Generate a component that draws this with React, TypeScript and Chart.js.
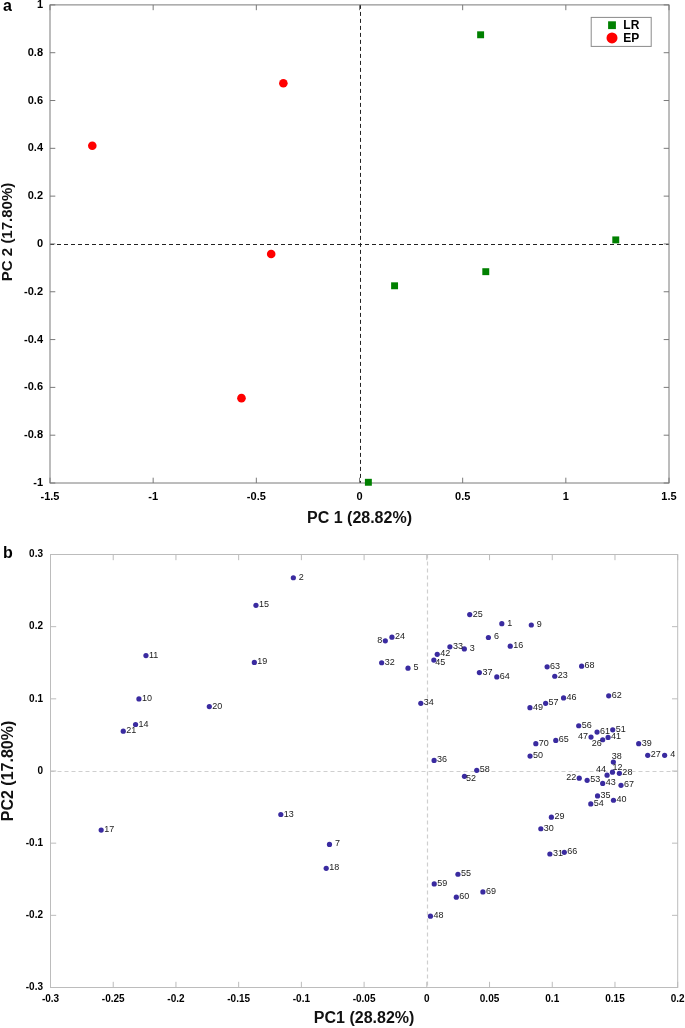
import React, { useEffect, useRef } from "react";
import { Chart, registerables } from "chart.js";

Chart.register(...registerables);

const FONT = "'Liberation Sans', Arial, Helvetica, sans-serif";

// ---------------- Panel a data ----------------
const groupNames = ["LR", "EP"];
const lrPC1 = [0.587, 1.242, 0.612, 0.17, 0.043];
const lrPC2 = [0.875, 0.017, -0.116, -0.175, -0.997];
const epPC1 = [-1.295, -0.369, -0.428, -0.572];
const epPC2 = [0.411, 0.672, -0.042, -0.645];
const xTicksA = [-1.5, -1, -0.5, 0, 0.5, 1, 1.5];
const yTicksA = [-1, -0.8, -0.6, -0.4, -0.2, 0, 0.2, 0.4, 0.6, 0.8, 1];

// ---------------- Panel b data ----------------
const sampleIds = [
  "1", "2", "3", "4", "5", "6", "7", "8", "9", "10",
  "11", "12", "13", "14", "15", "16", "17", "18", "19", "20",
  "21", "22", "23", "24", "25", "26", "27", "28", "29", "30",
  "31", "32", "33", "34", "35", "36", "37", "38", "39", "40",
  "41", "42", "43", "44", "45", "46", "47", "48", "49", "50",
  "51", "52", "53", "54", "55", "56", "57", "58", "59", "60",
  "61", "62", "63", "64", "65", "66", "67", "68", "69", "70",
];
const pc1 = [
  0.0598, -0.1064, 0.0299, 0.1896, -0.015, 0.0491, -0.0776, -0.0331, 0.0833, -0.2295,
  -0.2239, 0.148, -0.1164, -0.2322, -0.1362, 0.0665, -0.2596, -0.0802, -0.1375, -0.1734,
  -0.242, 0.1215, 0.102, -0.0278, 0.0342, 0.1402, 0.1761, 0.1535, 0.0993, 0.0909,
  0.0981, -0.036, 0.0184, -0.0048, 0.1361, 0.0058, 0.0419, 0.1487, 0.1689, 0.1488,
  0.1445, 0.0083, 0.1402, 0.1437, 0.0056, 0.109, 0.1309, 0.0029, 0.0822, 0.0823,
  0.1482, 0.03, 0.1278, 0.1307, 0.0248, 0.1211, 0.0947, 0.0398, 0.0059, 0.0235,
  0.1357, 0.145, 0.0959, 0.0558, 0.1028, 0.1096, 0.1548, 0.1234, 0.0447, 0.0869,
];
const pc2 = [
  0.2042, 0.2678, 0.1692, 0.0217, 0.1425, 0.185, -0.1017, 0.1804, 0.2023, 0.0999,
  0.16, -0.0016, -0.0603, 0.0644, 0.2296, 0.1729, -0.0819, -0.1348, 0.1505, 0.0893,
  0.0552, -0.0099, 0.1313, 0.1855, 0.2168, 0.0433, 0.0217, -0.0032, -0.064, -0.08,
  -0.115, 0.15, 0.172, 0.0938, -0.0345, 0.0147, 0.1364, 0.0124, 0.0378, -0.0405,
  0.0465, 0.1617, -0.0172, -0.0058, 0.1537, 0.1012, 0.047, -0.2011, 0.0877, 0.0207,
  0.0571, -0.0074, -0.0129, -0.0456, -0.1431, 0.0627, 0.0938, 0.0009, -0.1565, -0.1749,
  0.0539, 0.1042, 0.1444, 0.1303, 0.0424, -0.1127, -0.0198, 0.1453, -0.1675, 0.0378,
];
const xTicksB = [-0.3, -0.25, -0.2, -0.15, -0.1, -0.05, 0, 0.05, 0.1, 0.15, 0.2];
const yTicksB = [-0.3, -0.2, -0.1, 0, 0.1, 0.2, 0.3];

// where a point's label sits when it is not to the right of the point
const labelPlacement: Record<string, string> = {
  "8": "left",
  "47": "left",
  "22": "left",
  "44": "upLeft",
  "26": "downLeft",
  "12": "upRight",
  "38": "up",
  "52": "downRight",
  "45": "downRight",
};

const fmt = (v: number) => {
  const r = Math.round(v * 1000) / 1000;
  return String(r === 0 ? 0 : r);
};

// ---------------- plugins ----------------
const framePlugin = {
  id: "frame",
  beforeDatasetsDraw(chart: any, _args: any, opts: any) {
    if (!opts || !opts.enabled) return;
    const { ctx, chartArea: a } = chart;
    const xs = chart.scales.x;
    const ys = chart.scales.y;
    ctx.save();
    ctx.strokeStyle = opts.zeroColor;
    ctx.lineWidth = opts.zeroWidth;
    ctx.setLineDash(opts.dash);
    const x0 = Math.round(xs.getPixelForValue(0)) + 0.5;
    const y0 = Math.round(ys.getPixelForValue(0)) + 0.5;
    ctx.beginPath();
    ctx.moveTo(x0, a.top);
    ctx.lineTo(x0, a.bottom);
    ctx.moveTo(a.left, y0);
    ctx.lineTo(a.right, y0);
    ctx.stroke();
    ctx.setLineDash([]);
    ctx.strokeStyle = opts.color;
    ctx.lineWidth = opts.width;
    ctx.strokeRect(a.left, a.top, a.right - a.left, a.bottom - a.top);
    const L = opts.tickLength;
    ctx.beginPath();
    xs.ticks.forEach((t: any) => {
      const px = xs.getPixelForValue(t.value);
      ctx.moveTo(px, a.bottom);
      ctx.lineTo(px, a.bottom - L);
      ctx.moveTo(px, a.top);
      ctx.lineTo(px, a.top + L);
    });
    ys.ticks.forEach((t: any) => {
      const py = ys.getPixelForValue(t.value);
      ctx.moveTo(a.left, py);
      ctx.lineTo(a.left + L, py);
      ctx.moveTo(a.right, py);
      ctx.lineTo(a.right - L, py);
    });
    ctx.stroke();
    ctx.restore();
  },
  afterDraw(chart: any, _args: any, opts: any) {
    // rotated y-axis title (drawn here so it can sit slightly off-centre)
    if (!opts || !opts.yTitle) return;
    const { ctx, chartArea: a } = chart;
    const t = opts.yTitle;
    ctx.save();
    ctx.translate(t.x, (a.top + a.bottom) / 2 - t.shift);
    ctx.rotate(-Math.PI / 2);
    ctx.font = t.font;
    ctx.fillStyle = "#111";
    ctx.textAlign = "center";
    ctx.textBaseline = "middle";
    ctx.fillText(t.text, 0, 0);
    ctx.restore();
  },
};

const legendBoxPlugin = {
  id: "legendBox",
  afterDatasetsDraw(chart: any, _args: any, opts: any) {
    if (!opts || !opts.show) return;
    const { ctx, chartArea: a } = chart;
    const w = 60;
    const h = 29;
    const left = a.right - 18.3 - w;
    const top = a.top + 12;
    ctx.save();
    ctx.fillStyle = "#ffffff";
    ctx.fillRect(left, top, w, h);
    ctx.strokeStyle = "#8a8a8a";
    ctx.lineWidth = 1;
    ctx.strokeRect(left + 0.5, top + 0.5, w, h);
    chart.data.datasets.forEach((ds: any, i: number) => {
      const cy = top + 8.3 + i * 12.7;
      const cx = left + 21.3;
      ctx.fillStyle = ds.pointBackgroundColor;
      if (ds.pointStyle === "rect") {
        ctx.fillRect(cx - 3.9, cy - 3.9, 7.8, 7.8);
      } else {
        ctx.beginPath();
        ctx.arc(cx, cy, 5.5, 0, Math.PI * 2);
        ctx.fill();
      }
      ctx.fillStyle = "#000";
      ctx.font = `bold 12px ${FONT}`;
      ctx.textAlign = "left";
      ctx.textBaseline = "middle";
      ctx.fillText(ds.label, left + 32.6, cy + 0.5);
    });
    ctx.restore();
  },
};

const pointLabelPlugin = {
  id: "pointLabels",
  afterDatasetsDraw(chart: any, _args: any, opts: any) {
    if (!opts || !opts.labels) return;
    const { ctx } = chart;
    const meta = chart.getDatasetMeta(0);
    ctx.save();
    ctx.font = `9px ${FONT}`;
    ctx.fillStyle = "#1a1a1a";
    ctx.textBaseline = "middle";
    meta.data.forEach((pt: any, i: number) => {
      const text = opts.labels[i];
      const place = opts.placement[text] || "right";
      let x = pt.x;
      let y = pt.y - 0.5;
      let align = "left";
      switch (place) {
        case "left":
          align = "right";
          x -= 3;
          break;
        case "upLeft":
          align = "right";
          x -= 1;
          y -= 5.5;
          break;
        case "downLeft":
          align = "right";
          x -= 1;
          y += 4;
          break;
        case "upRight":
          y -= 4.5;
          break;
        case "up":
          x -= 1.5;
          y -= 5;
          break;
        case "downRight":
          x += 1.5;
          y += 2.5;
          break;
        default:
          x += 3 + (text.length === 1 ? 2.5 : 0);
      }
      ctx.textAlign = align;
      ctx.fillText(text, x, y);
    });
    ctx.restore();
  },
};

// ---------------- configs ----------------
function makeConfigA(): any {
  return {
    type: "scatter",
    data: {
      datasets: [
        {
          label: groupNames[0],
          data: lrPC1.map((x, i) => ({ x, y: lrPC2[i] })),
          pointStyle: "rect",
          pointRadius: 4.9,
          pointBackgroundColor: "#008000",
          pointBorderColor: "#008000",
          pointBorderWidth: 0,
          showLine: false,
          clip: false,
        },
        {
          label: groupNames[1],
          data: epPC1.map((x, i) => ({ x, y: epPC2[i] })),
          pointStyle: "circle",
          pointRadius: 4.3,
          pointBackgroundColor: "#ff0000",
          pointBorderColor: "#ff0000",
          pointBorderWidth: 0,
          showLine: false,
          clip: false,
        },
      ],
    },
    options: {
      responsive: false,
      animation: false,
      events: [],
      layout: { padding: { left: 0, top: 4.7, right: 16, bottom: 0 } },
      plugins: {
        legend: { display: false },
        tooltip: { enabled: false },
        frame: {
          enabled: true,
          color: "#7a7a7a",
          width: 1,
          tickLength: 5.3,
          zeroColor: "#222",
          zeroWidth: 1,
          dash: [4, 3],
          yTitle: {
            text: "PC 2 (17.80%)",
            font: `bold 15px ${FONT}`,
            x: 7.8,
            shift: 12,
          },
        },
        legendBox: { show: true },
      },
      scales: {
        x: {
          type: "linear",
          min: -1.5,
          max: 1.5,
          afterBuildTicks: (s: any) => {
            s.ticks = xTicksA.map((value) => ({ value }));
          },
          afterFit: (s: any) => {
            s.height = 47;
            s.paddingLeft = 0;
            s.paddingRight = 0;
          },
          grid: { display: false, drawTicks: false },
          border: { display: false },
          ticks: {
            autoSkip: false,
            maxRotation: 0,
            padding: 7.7,
            color: "#000",
            font: { family: FONT, size: 11, weight: "bold" },
            callback: (v: number) => fmt(v),
          },
          title: {
            display: true,
            text: "PC 1 (28.82%)",
            color: "#111",
            font: { family: FONT, size: 16, weight: "bold", lineHeight: 1.2 },
            padding: { top: 0, bottom: 2 },
          },
        },
        y: {
          type: "linear",
          min: -1,
          max: 1,
          afterBuildTicks: (s: any) => {
            s.ticks = yTicksA.map((value) => ({ value }));
          },
          afterFit: (s: any) => {
            s.width = 50;
            s.paddingTop = 0;
            s.paddingBottom = 0;
          },
          grid: { display: false, drawTicks: false },
          border: { display: false },
          ticks: {
            autoSkip: false,
            padding: 7,
            color: "#000",
            font: { family: FONT, size: 11, weight: "bold" },
            callback: (v: number) => fmt(v),
          },
          title: { display: false },
        },
      },
    },
    plugins: [framePlugin, legendBoxPlugin],
  };
}

function makeConfigB(): any {
  return {
    type: "scatter",
    data: {
      datasets: [
        {
          label: "samples",
          data: pc1.map((x, i) => ({ x, y: pc2[i] })),
          pointStyle: "circle",
          pointRadius: 2.6,
          pointBackgroundColor: "#3a2ba0",
          pointBorderColor: "#3a2ba0",
          pointBorderWidth: 0,
          showLine: false,
          clip: false,
        },
      ],
    },
    options: {
      responsive: false,
      animation: false,
      events: [],
      layout: { padding: { left: 0, top: 24.5, right: 7.3, bottom: 0 } },
      plugins: {
        legend: { display: false },
        tooltip: { enabled: false },
        frame: {
          enabled: true,
          color: "#bcbcbc",
          width: 1,
          tickLength: 5.7,
          zeroColor: "#cfcfcf",
          zeroWidth: 1.2,
          dash: [4, 3],
        },
        pointLabels: { labels: sampleIds, placement: labelPlacement },
      },
      scales: {
        x: {
          type: "linear",
          min: -0.3,
          max: 0.2,
          afterBuildTicks: (s: any) => {
            s.ticks = xTicksB.map((value) => ({ value }));
          },
          afterFit: (s: any) => {
            s.height = 40.5;
            s.paddingLeft = 0;
            s.paddingRight = 0;
          },
          grid: { display: false, drawTicks: false },
          border: { display: false },
          ticks: {
            autoSkip: false,
            maxRotation: 0,
            padding: 5.8,
            color: "#000",
            font: { family: FONT, size: 10, weight: "bold" },
            callback: (v: number) => fmt(v),
          },
          title: {
            display: true,
            text: "PC1 (28.82%)",
            color: "#111",
            font: { family: FONT, size: 16, weight: "bold", lineHeight: 1.2 },
            padding: { top: 0, bottom: 0 },
          },
        },
        y: {
          type: "linear",
          min: -0.3,
          max: 0.3,
          afterBuildTicks: (s: any) => {
            s.ticks = yTicksB.map((value) => ({ value }));
          },
          afterFit: (s: any) => {
            s.width = 50.5;
            s.paddingTop = 0;
            s.paddingBottom = 0;
          },
          grid: { display: false, drawTicks: false },
          border: { display: false },
          ticks: {
            autoSkip: false,
            padding: 7.5,
            color: "#000",
            font: { family: FONT, size: 10, weight: "bold" },
            callback: (v: number) => fmt(v),
          },
          title: {
            display: true,
            text: "PC2 (17.80%)",
            color: "#111",
            font: { family: FONT, size: 16, weight: "bold", lineHeight: 1 },
            padding: { top: 1, bottom: 0 },
          },
        },
      },
    },
    plugins: [framePlugin, pointLabelPlugin],
  };
}

function ChartCanvas(props: { make: () => any; width: number; height: number; top: number }) {
  const ref = useRef<HTMLCanvasElement | null>(null);
  useEffect(() => {
    const chart = new Chart(ref.current as HTMLCanvasElement, props.make());
    return () => chart.destroy();
  }, []);
  return (
    <canvas
      ref={ref}
      width={props.width}
      height={props.height}
      style={{
        position: "absolute",
        left: 0,
        top: props.top,
        width: props.width,
        height: props.height,
        display: "block",
      }}
    />
  );
}

export default function App() {
  return (
    <div
      style={{
        position: "absolute",
        left: 0,
        top: 0,
        width: 685,
        height: 1028,
        background: "#ffffff",
        overflow: "hidden",
      }}
    >
      <ChartCanvas make={makeConfigA} width={685} height={530} top={0} />
      <ChartCanvas make={makeConfigB} width={685} height={498} top={530} />
      <div
        style={{
          position: "absolute",
          left: 3,
          top: -1.8,
          font: `bold 16px/16px ${FONT}`,
          color: "#000",
        }}
      >
        a
      </div>
      <div
        style={{
          position: "absolute",
          left: 3,
          top: 544.8,
          font: `bold 16px/16px ${FONT}`,
          color: "#000",
        }}
      >
        b
      </div>
    </div>
  );
}
